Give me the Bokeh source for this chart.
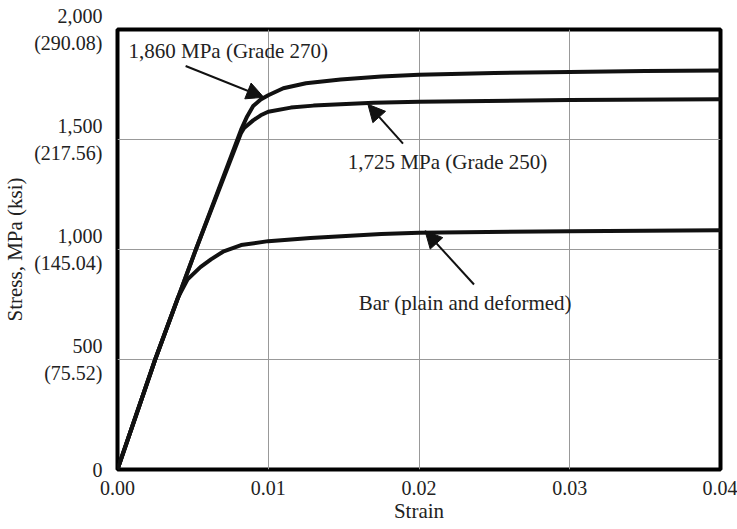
from bokeh.plotting import figure
from bokeh.models import FixedTicker, Arrow, NormalHead, Label, Range1d
from bokeh.embed import file_html
from bokeh.resources import INLINE

# ---- data ----
strain_270 = [0, 0.0025, 0.0052, 0.0082, 0.0086, 0.0090, 0.0095, 0.0100, 0.0110, 0.0125, 0.0148, 0.0175, 0.0200, 0.0250, 0.0300, 0.0350, 0.0400]
stress_270 = [0, 500, 1000, 1545, 1605, 1652, 1682, 1701, 1733, 1756, 1773, 1786, 1794, 1802, 1807, 1811, 1814]

strain_250 = [0, 0.0025, 0.0052, 0.0082, 0.0084, 0.0090, 0.0095, 0.0100, 0.0115, 0.0130, 0.0148, 0.0170, 0.0200, 0.0300, 0.0400]
stress_250 = [0, 500, 1000, 1530, 1552, 1587, 1610, 1626, 1645, 1654, 1660, 1667, 1672, 1679, 1683]

strain_bar = [0, 0.0025, 0.0040, 0.00465, 0.0055, 0.0062, 0.0070, 0.0082, 0.0100, 0.0128, 0.0175, 0.0200, 0.0300, 0.0400]
stress_bar = [0, 500, 780, 864, 920, 955, 990, 1020, 1038, 1052, 1070, 1076, 1083, 1087]

x_ticks = [0.0, 0.01, 0.02, 0.03, 0.04]
x_tick_labels = ["0.00", "0.01", "0.02", "0.03", "0.04"]
y_ticks = [0, 500, 1000, 1500, 2000]
y_tick_labels = ["0", "500\n(75.52)", "1,000\n(145.04)", "1,500\n(217.56)", "2,000\n(290.08)"]

ann_texts = ["1,860 MPa (Grade 270)", "1,725 MPa (Grade 250)", "Bar (plain and deformed)"]
ann_text_x = [0.00073, 0.01528, 0.0160]
ann_text_y = [1902, 1399, 759]
arrow_tail_x = [0.00452, 0.01894, 0.02365]
arrow_tail_y = [1834, 1481, 841]
arrow_tip_x = [0.0097, 0.01661, 0.0204]
arrow_tip_y = [1692, 1660, 1085]

FONT = "Liberation Serif"
INK = "#222222"

p = figure(width=737, height=529, output_backend="svg", toolbar_location=None,
           x_range=Range1d(0, 0.04), y_range=Range1d(0, 2000),
           min_border_left=117, min_border_right=17, min_border_top=29, min_border_bottom=60)

p.outline_line_color = "black"
p.outline_line_width = 4
p.background_fill_color = "white"
p.border_fill_color = "white"

# axes
p.xaxis.ticker = FixedTicker(ticks=x_ticks)
p.xaxis.major_label_overrides = dict(zip(x_ticks, x_tick_labels))
p.yaxis.ticker = FixedTicker(ticks=y_ticks)
p.yaxis.major_label_overrides = dict(zip(y_ticks, y_tick_labels))
for ax in (p.xaxis, p.yaxis):
    ax.axis_line_color = None
    ax.major_tick_line_color = None
    ax.minor_tick_line_color = None
    ax.major_label_text_font = FONT
    ax.major_label_text_font_size = "20px"
    ax.major_label_text_color = INK
    ax.axis_label_text_font = FONT
    ax.axis_label_text_font_size = "21px"
    ax.axis_label_text_font_style = "normal"
    ax.axis_label_text_color = INK
p.yaxis.major_label_text_line_height = 1.25
p.xaxis.major_label_standoff = 5
p.yaxis.major_label_standoff = 9
p.xaxis.axis_label = "Strain"
p.yaxis.axis_label = "Stress, MPa (ksi)"
p.xaxis.axis_label_standoff = 1
p.yaxis.axis_label_standoff = 4

p.xgrid.ticker = FixedTicker(ticks=[0.01, 0.02, 0.03])
p.ygrid.ticker = FixedTicker(ticks=[500, 1000, 1500])
p.grid.grid_line_color = "#999999"
p.grid.grid_line_width = 1

# curves
p.line(strain_bar, stress_bar, line_color="#111111", line_width=4, line_join="round")
p.line(strain_250, stress_250, line_color="#111111", line_width=4, line_join="round")
p.line(strain_270, stress_270, line_color="#111111", line_width=4, line_join="round")

# annotations
for t, tx, ty, x0, y0, x1, y1 in zip(ann_texts, ann_text_x, ann_text_y,
                                      arrow_tail_x, arrow_tail_y, arrow_tip_x, arrow_tip_y):
    p.add_layout(Label(x=tx, y=ty, text=t, text_font=FONT, text_font_size="21px",
                       text_color=INK, text_baseline="middle", text_align="left"))
    p.add_layout(Arrow(x_start=x0, y_start=y0, x_end=x1, y_end=y1,
                       line_color="#111111", line_width=2,
                       end=NormalHead(size=17, fill_color="#111111", line_color="#111111")))

open("out.html", "w").write(file_html(p, INLINE))
